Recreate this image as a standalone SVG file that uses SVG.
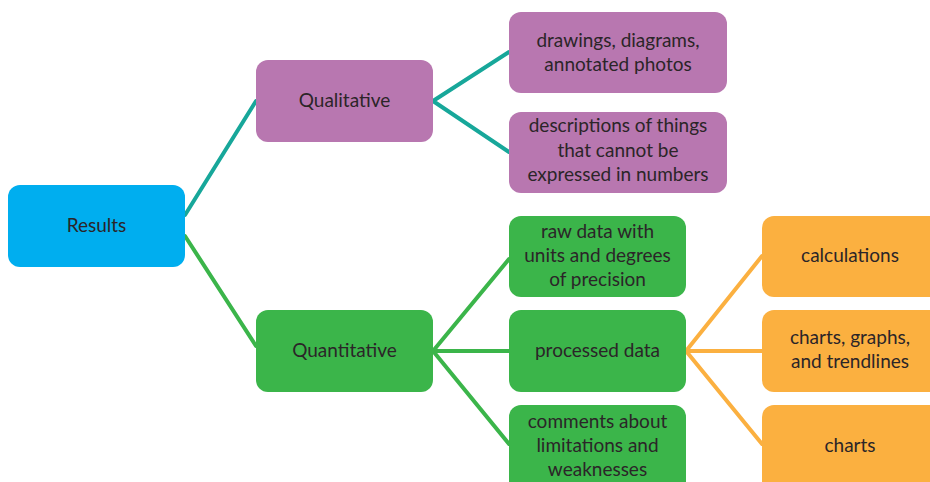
<svg xmlns="http://www.w3.org/2000/svg" width="930" height="482" viewBox="0 0 930 482">
<style>
text{font-family:Lato,"Open Sans","DejaVu Sans",sans-serif;font-size:19px;fill:#2b2528;text-anchor:middle}
.c{fill:none;stroke-width:4;stroke-linecap:round}
.teal{stroke:#17a79a}.green{stroke:#3bb54a}.orange{stroke:#fbb040}
.blue{fill:#00aeef}.purple{fill:#b877b0}.gr{fill:#3bb54a}.or{fill:#fbb040}
</style>
<rect width="930" height="482" fill="#ffffff"/>
<g id="connectors">
<path class="c teal" d="M185 215 L256 101"/>
<path class="c green" d="M185 236 L256 346"/>
<path class="c teal" d="M433 101 L509 52 M433 101 L509 152"/>
<path class="c green" d="M433 351 L509 259 M433 351 L509 351 M433 351 L509 444"/>
<path class="c orange" d="M686 351 L762 256 M686 351 L762 351 M686 351 L762 444"/>
</g>
<g id="results"><rect class="blue" x="8" y="185" width="177" height="82" rx="12"/><text x="96.5" y="232">Results</text></g>
<g id="qualitative"><rect class="purple" x="256" y="60" width="177" height="82" rx="12"/><text x="344.5" y="107">Qualitative</text></g>
<g id="drawings"><rect class="purple" x="509" y="12" width="218" height="81" rx="12"/><text x="618" y="47">drawings, diagrams,</text><text x="618" y="71">annotated photos</text></g>
<g id="descriptions"><rect class="purple" x="509" y="112" width="218" height="81" rx="12"/><text x="618" y="132">descriptions of things</text><text x="618" y="157">that cannot be</text><text x="618" y="181">expressed in numbers</text></g>
<g id="quantitative"><rect class="gr" x="256" y="310" width="177" height="82" rx="12"/><text x="344.5" y="357">Quantitative</text></g>
<g id="raw"><rect class="gr" x="509" y="216" width="177" height="81" rx="12"/><text x="597.5" y="238">raw data with</text><text x="597.5" y="262">units and degrees</text><text x="597.5" y="286">of precision</text></g>
<g id="processed"><rect class="gr" x="509" y="310" width="177" height="82" rx="12"/><text x="597.5" y="357">processed data</text></g>
<g id="comments"><rect class="gr" x="509" y="405" width="177" height="90" rx="12"/><text x="597.5" y="428">comments about</text><text x="597.5" y="452">limitations and</text><text x="597.5" y="476">weaknesses</text></g>
<g id="calculations"><rect class="or" x="762" y="216" width="185" height="81" rx="12"/><text x="850" y="262">calculations</text></g>
<g id="chartsgraphs"><rect class="or" x="762" y="310" width="185" height="82" rx="12"/><text x="850" y="344">charts, graphs,</text><text x="850" y="368">and trendlines</text></g>
<g id="charts"><rect class="or" x="762" y="405" width="185" height="90" rx="12"/><text x="850" y="452">charts</text></g>
</svg>
